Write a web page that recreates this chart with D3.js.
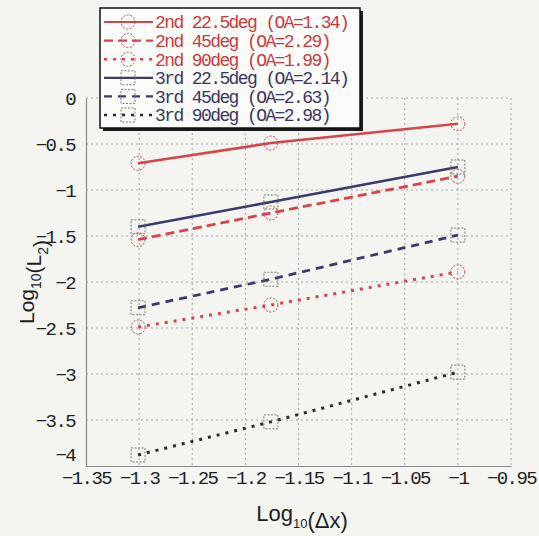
<!DOCTYPE html>
<html>
<head>
<meta charset="utf-8">
<script src="https://cdn.jsdelivr.net/npm/d3@7"></script>
<style>
  html, body { margin: 0; padding: 0; background: #f4f4f1; }
  svg { display: block; }
</style>
</head>
<body>
<svg id="chart" width="539" height="536"></svg>
<script>
// log10 of the grid spacings 1/20, 1/15, 1/10
const logDx = [-1.301, -1.176, -1.0];

// log10 of the L2 error for each case
const err2nd22 = [-0.71, -0.49, -0.28];
const err2nd45 = [-1.54, -1.25, -0.85];
const err2nd90 = [-2.49, -2.25, -1.89];
const err3rd22 = [-1.40, -1.13, -0.75];
const err3rd45 = [-2.28, -1.97, -1.49];
const err3rd90 = [-3.88, -3.52, -2.98];

const seriesNames = [
  "2nd 22.5deg (OA=1.34)",
  "2nd 45deg (OA=2.29)",
  "2nd 90deg (OA=1.99)",
  "3rd 22.5deg (OA=2.14)",
  "3rd 45deg (OA=2.63)",
  "3rd 90deg (OA=2.98)"
];

const xTicks = [-1.35, -1.3, -1.25, -1.2, -1.15, -1.1, -1.05, -1, -0.95];
const yTicks = [0, -0.5, -1, -1.5, -2, -2.5, -3, -3.5, -4];

const RED = "#d9444b", NAVY = "#3b3a6c", DARK = "#2c2c2c";
const series = [
  { name: seriesNames[0], values: err2nd22, color: RED,  dash: null,  width: 2.6, marker: "circle", text: "#cc3a3e" },
  { name: seriesNames[1], values: err2nd45, color: RED,  dash: "9,5", width: 2.8, marker: "circle", text: "#cc3a3e" },
  { name: seriesNames[2], values: err2nd90, color: RED,  dash: "3,6", width: 3,   marker: "circle", text: "#cc3a3e" },
  { name: seriesNames[3], values: err3rd22, color: NAVY, dash: null,  width: 2.6, marker: "square", text: "#3a3562" },
  { name: seriesNames[4], values: err3rd45, color: NAVY, dash: "8,6", width: 2.8, marker: "square", text: "#3a3562" },
  { name: seriesNames[5], values: err3rd90, color: DARK, dash: "3,6", width: 3,   marker: "square", text: "#3a3562" }
];

const svg = d3.select("#chart");
const plot = { left: 86, right: 511, top: 98, bottom: 466 };

const x = d3.scaleLinear().domain([-1.35, -0.95]).range([plot.left, plot.right]);
const y = d3.scaleLinear().domain([-4, 0]).range([plot.bottom, plot.top]);

const monoFont = "'Liberation Mono', 'DejaVu Sans Mono', monospace";
const sansFont = "'Liberation Sans', Arial, sans-serif";
const fmt = d => d === 0 ? "0" : String(d).replace("-", "\u2212");

// dotted grid
const grid = svg.append("g").attr("stroke", "#a4a4a4").attr("stroke-width", 1)
  .attr("stroke-dasharray", "2,3").attr("fill", "none");
grid.selectAll("line.v").data(xTicks.slice(1)).join("line")
  .attr("x1", d => x(d)).attr("x2", d => x(d))
  .attr("y1", plot.top).attr("y2", plot.bottom);
grid.selectAll("line.h").data(yTicks.slice(0, -1)).join("line")
  .attr("x1", plot.left).attr("x2", plot.right)
  .attr("y1", d => y(d)).attr("y2", d => y(d));

// axes without tick marks, labels only
const xAxis = svg.append("g").attr("transform", `translate(0,${plot.bottom})`)
  .call(d3.axisBottom(x).tickValues(xTicks).tickFormat(fmt).tickSize(0).tickPadding(5));
const yAxis = svg.append("g").attr("transform", `translate(${plot.left},0)`)
  .call(d3.axisLeft(y).tickValues(yTicks).tickFormat(fmt).tickSize(0).tickPadding(11));
[xAxis, yAxis].forEach(a => {
  a.select(".domain").attr("stroke", "#888").attr("stroke-width", 1.2);
  a.selectAll("text").attr("fill", "#1e1e1e").style("font-family", monoFont)
    .style("font-size", "19px").style("letter-spacing", "-1.6px");
});
xAxis.selectAll("text").attr("dy", "0.66em");
yAxis.selectAll("text").attr("dy", "0.36em");
yAxis.select(".tick:last-of-type text").attr("dy", "-0.3em");

// axis titles with subscripts
function title(g, parts, size, subSize, shift) {
  const t = g.append("text").attr("text-anchor", "middle").attr("fill", "#1e1e1e")
    .style("font-family", sansFont).style("font-size", size + "px");
  parts.forEach(p => {
    if (p.sub) {
      t.append("tspan").attr("dy", shift).style("font-size", subSize + "px").text(p.sub);
      t.append("tspan").attr("dy", -shift).text("");
    } else {
      t.append("tspan").text(p.t);
    }
  });
  return t;
}
title(svg.append("g").attr("transform", "translate(302,521)"),
  [{ t: "Log" }, { sub: "10" }, { t: "(\u0394x)" }], 22, 13, 7);
title(svg.append("g").attr("transform", "translate(34,282) rotate(-90)"),
  [{ t: "Log" }, { sub: "10" }, { t: "(L" }, { sub: "2" }, { t: ")" }], 21, 14, 7);

// data lines
const line = d3.line().x((d, i) => x(logDx[i])).y(d => y(d));
svg.append("g").selectAll("path").data(series).join("path")
  .attr("d", s => line(s.values))
  .attr("fill", "none")
  .attr("stroke", s => s.color)
  .attr("stroke-width", s => s.width)
  .attr("stroke-dasharray", s => s.dash);

// hollow dashed markers
function drawMarker(g, kind, cx, cy) {
  if (kind === "circle") {
    g.append("circle").attr("cx", cx).attr("cy", cy).attr("r", 7)
      .attr("fill", "none").attr("stroke", "#a8504a").attr("stroke-width", 1)
      .attr("stroke-dasharray", "2,1.5");
  } else {
    g.append("rect").attr("x", cx - 7).attr("y", cy - 7).attr("width", 14).attr("height", 14)
      .attr("fill", "none").attr("stroke", "#777").attr("stroke-width", 1)
      .attr("stroke-dasharray", "2,1.5");
  }
}
const markers = svg.append("g");
series.forEach(s => s.values.forEach((v, i) => drawMarker(markers, s.marker, x(logDx[i]), y(v))));

// legend
const leg = svg.append("g");
const box = { x: 100, y: 8, w: 260, h: 120 };
leg.append("rect").attr("x", box.x + 3).attr("y", box.y + 3).attr("width", box.w).attr("height", box.h)
  .attr("fill", "#1a1a1a");
leg.append("rect").attr("x", box.x).attr("y", box.y).attr("width", box.w).attr("height", box.h)
  .attr("fill", "#fbfbf9").attr("stroke", "#111").attr("stroke-width", 1.5);

const rowY = d3.scaleLinear().domain([0, 5]).range([22, 115]);
series.forEach((s, i) => {
  const cy = rowY(i);
  leg.append("line").attr("x1", 104).attr("x2", 153).attr("y1", cy).attr("y2", cy)
    .attr("stroke", s.color).attr("stroke-width", s.width - 0.4)
    .attr("stroke-dasharray", s.dash);
  drawMarker(leg, s.marker, 128, cy);
  leg.append("text").attr("x", 155).attr("y", cy).attr("dy", "0.36em")
    .attr("fill", s.text).style("font-family", monoFont)
    .style("font-size", "18px").style("letter-spacing", "-1.6px")
    .text(s.name);
});
</script>
</body>
</html>
